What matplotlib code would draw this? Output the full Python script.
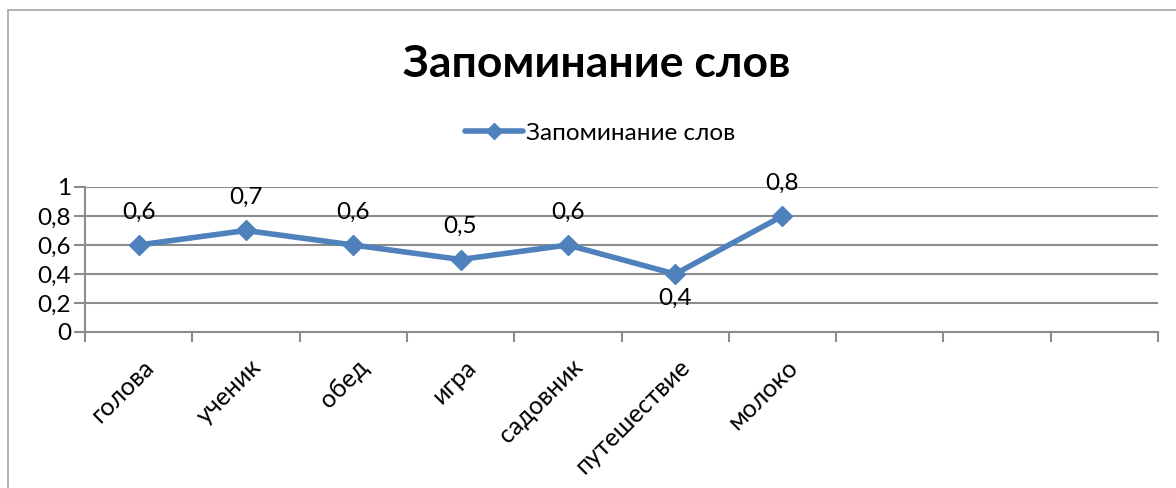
import matplotlib.pyplot as plt
from matplotlib.patches import Rectangle

plt.rcParams['font.family'] = ['Lato', 'DejaVu Sans']

# data
words = ['голова', 'ученик', 'обед', 'игра', 'садовник', 'путешествие', 'молоко', '', '', '']
recall = [0.6, 0.7, 0.6, 0.5, 0.6, 0.4, 0.8]
label_below = [False, False, False, False, False, True, False]
yticks = [0, 0.2, 0.4, 0.6, 0.8, 1]
ytick_labels = ['0', '0,2', '0,4', '0,6', '0,8', '1']

blue = '#4F81BD'
grid = '#8C8C8C'

fig = plt.figure(figsize=(11.76, 4.88), dpi=100)
W, H = 1176, 488
ax = fig.add_axes([85 / W, 1 - 332 / H, (1158 - 85) / W, (332 - 187) / H])

# outer chart frame
fig.patches.append(Rectangle((8 / W, -0.1), 1.2, 1 - 10 / H + 0.1, transform=fig.transFigure,
                             fill=False, edgecolor='#A6A6A6', linewidth=1.2))

x = list(range(len(recall)))
ax.plot(x, recall, color=blue, linewidth=4, marker='D', markersize=10,
        solid_capstyle='round', zorder=3, label='Запоминание слов')

for xi, v, below in zip(x, recall, label_below):
    lbl = f'{v:.1f}'.replace('.', ',')
    if below:
        ax.annotate(lbl, (xi, v), xytext=(0, -10), textcoords='offset points',
                    ha='center', va='top', fontsize=17.5)
    else:
        ax.annotate(lbl, (xi, v), xytext=(0, 16), textcoords='offset points',
                    ha='center', va='bottom', fontsize=17.5)

ax.set_xlim(-0.5, len(words) - 0.5)
ax.set_ylim(0, 1)
ax.set_yticks(yticks)
ax.set_yticklabels(ytick_labels, fontsize=17.5)
ax.yaxis.grid(True, color=grid, linewidth=1.5)
ax.tick_params(axis='y', length=8, color=grid, width=1.5, pad=2)

ax.set_xticks([i - 0.5 for i in range(len(words) + 1)], minor=False)
ax.set_xticklabels([])
ax.tick_params(axis='x', length=7, color=grid, width=1.5, direction='out')
for i, w in enumerate(words):
    ax.text(i + 0.03, -0.16, w, rotation=45, ha='right', va='top', rotation_mode='anchor',
            fontsize=18, transform=ax.transData, clip_on=False)

for side in ['top', 'right']:
    ax.spines[side].set_visible(False)
ax.spines['left'].set_color(grid)
ax.spines['left'].set_linewidth(1.5)
ax.spines['bottom'].set_color(grid)
ax.spines['bottom'].set_linewidth(1.5)

fig.text(597 / W, 1 - 64 / H, 'Запоминание слов', ha='center', va='center',
         fontsize=32, fontweight='bold')
fig.legend(loc='center', bbox_to_anchor=(600 / W, 1 - 133 / H), frameon=False,
           fontsize=17.5, handlelength=2.4, handletextpad=0.1, markerscale=0.8)

fig.savefig('out.png', dpi=100)
